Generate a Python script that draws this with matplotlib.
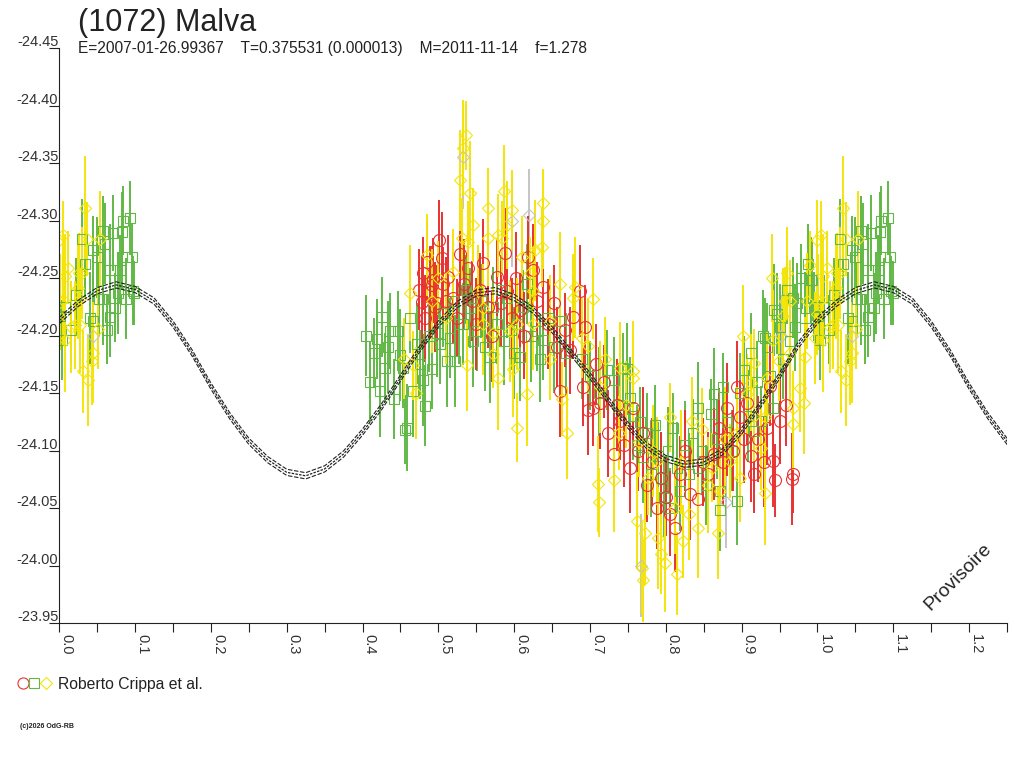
import numpy as np
import matplotlib.pyplot as plt
from matplotlib import transforms
from matplotlib.lines import Line2D
from matplotlib.legend_handler import HandlerTuple

plt.rcParams["font.family"] = ["Liberation Sans", "DejaVu Sans"]

# --- Texts ---
TITLE = "(1072) Malva"
SUBTITLE = "E=2007-01-26.99367    T=0.375531 (0.000013)    M=2011-11-14    f=1.278"
OBSERVER = "Roberto Crippa et al."
FOOTER = "(c)2026 OdG-RB"
STAMP = "Provisoire"

X_MAX = 1.25
Y_TICKS = [-24.45, -24.40, -24.35, -24.30, -24.25, -24.20,
           -24.15, -24.10, -24.05, -24.00, -23.95]

# --- Fitted light curve (one cycle, read every 0.025 in phase) ---
CURVE_PHASE = [0.000, 0.025, 0.050, 0.075, 0.100, 0.125, 0.150, 0.175, 0.200, 0.225,
               0.250, 0.275, 0.300, 0.325, 0.350, 0.375, 0.400, 0.425, 0.450, 0.475,
               0.500, 0.525, 0.550, 0.575, 0.600, 0.625, 0.650, 0.675, 0.700, 0.725,
               0.750, 0.775, 0.800, 0.825, 0.850, 0.875, 0.900, 0.925, 0.950, 0.975]
CURVE_MAG = [-24.213, -24.228, -24.239, -24.244, -24.240, -24.230, -24.210, -24.185, -24.156, -24.130,
             -24.108, -24.092, -24.081, -24.078, -24.084, -24.097, -24.116, -24.138, -24.163, -24.188,
             -24.210, -24.227, -24.237, -24.239, -24.233, -24.222, -24.205, -24.185, -24.165, -24.143,
             -24.122, -24.104, -24.093, -24.088, -24.090, -24.099, -24.117, -24.140, -24.165, -24.192]
CURVE_SPREAD = 0.0027

# --- Green squares ---
green_phase = [0.001, 0.004, 0.008, 0.015, 0.022, 0.030, 0.034, 0.040, 0.045, 0.045,
               0.050, 0.052, 0.058, 0.058, 0.060, 0.063, 0.067, 0.067, 0.071, 0.074,
               0.077, 0.080, 0.083, 0.083, 0.084, 0.088, 0.093, 0.096, 0.097, 0.099,
               0.405, 0.410, 0.415, 0.419, 0.423, 0.426, 0.430, 0.433, 0.436, 0.441,
               0.447, 0.449, 0.454, 0.456, 0.458, 0.463, 0.467, 0.472, 0.476, 0.480,
               0.483, 0.487, 0.492, 0.498, 0.502, 0.506, 0.511, 0.515, 0.519, 0.522,
               0.527, 0.533, 0.537, 0.542, 0.546, 0.551, 0.556, 0.561, 0.568, 0.572,
               0.577, 0.582, 0.586, 0.591, 0.596, 0.600, 0.604, 0.608, 0.612, 0.617,
               0.622, 0.630, 0.634, 0.638, 0.645, 0.652, 0.661, 0.668,
               0.690, 0.700, 0.712, 0.722, 0.731, 0.738, 0.744, 0.749, 0.753, 0.757,
               0.762, 0.766, 0.770, 0.775, 0.780, 0.786, 0.790, 0.793, 0.798, 0.803,
               0.806, 0.810, 0.815, 0.819, 0.825, 0.830, 0.836, 0.842, 0.842, 0.848,
               0.853, 0.859, 0.863, 0.868, 0.872, 0.872, 0.876, 0.881, 0.887, 0.894,
               0.898, 0.903, 0.908, 0.912, 0.916, 0.920, 0.925, 0.928, 0.931, 0.934,
               0.938, 0.942, 0.943, 0.947, 0.951, 0.955, 0.960, 0.964, 0.968, 0.971,
               0.973, 0.978, 0.983, 0.987, 0.991, 0.993, 0.996]
green_mag = [-24.217, -24.196, -24.225, -24.205, -24.235, -24.284, -24.262, -24.215, -24.274, -24.213,
             -24.268, -24.232, -24.291, -24.232, -24.280, -24.205, -24.257, -24.216, -24.289, -24.224,
             -24.237, -24.257, -24.290, -24.268, -24.300, -24.232, -24.302, -24.268, -24.239, -24.237,
             -24.200, -24.160, -24.185, -24.197, -24.152, -24.216, -24.172, -24.190, -24.204, -24.145,
             -24.204, -24.183, -24.172, -24.118, -24.120, -24.215, -24.152, -24.193, -24.175, -24.161,
             -24.139, -24.200, -24.171, -24.202, -24.193, -24.220, -24.178, -24.198, -24.230, -24.178,
             -24.210, -24.210, -24.240, -24.224, -24.195, -24.204, -24.230, -24.190, -24.181, -24.225,
             -24.210, -24.240, -24.195, -24.233, -24.205, -24.185, -24.210, -24.181, -24.225, -24.245,
             -24.200, -24.204, -24.180, -24.196, -24.215, -24.190, -24.213, -24.185,
             -24.180, -24.165, -24.150, -24.170, -24.161, -24.140, -24.172, -24.171, -24.146, -24.130,
             -24.105, -24.125, -24.094, -24.115, -24.080, -24.122, -24.095, -24.076, -24.060, -24.100,
             -24.050, -24.120, -24.085, -24.065, -24.105, -24.080, -24.115, -24.137, -24.085, -24.100,
             -24.070, -24.132, -24.149, -24.110, -24.065, -24.048, -24.155, -24.125, -24.100, -24.056,
             -24.150, -24.170, -24.130, -24.185, -24.117, -24.160, -24.126, -24.200, -24.198, -24.190,
             -24.165, -24.137, -24.222, -24.219, -24.207, -24.180, -24.240, -24.195, -24.233, -24.207,
             -24.228, -24.250, -24.215, -24.262, -24.248, -24.248, -24.225]
green_err = [0.030, 0.035, 0.028, 0.030, 0.032, 0.035, 0.030, 0.040, 0.030, 0.038,
             0.035, 0.032, 0.030, 0.040, 0.035, 0.030, 0.040, 0.035, 0.033, 0.030,
             0.036, 0.030, 0.035, 0.028, 0.030, 0.035, 0.032, 0.030, 0.030, 0.028,
             0.035, 0.035, 0.030, 0.035, 0.040, 0.035, 0.030, 0.040, 0.033, 0.035,
             0.035, 0.040, 0.035, 0.030, 0.038, 0.030, 0.040, 0.035, 0.030, 0.040,
             0.035, 0.032, 0.035, 0.038, 0.035, 0.030, 0.040, 0.035, 0.032, 0.040,
             0.035, 0.036, 0.030, 0.035, 0.040, 0.035, 0.032, 0.038, 0.040, 0.035,
             0.035, 0.030, 0.038, 0.035, 0.035, 0.040, 0.035, 0.038, 0.032, 0.035,
             0.040, 0.035, 0.038, 0.035, 0.030, 0.040, 0.035, 0.035,
             0.035, 0.030, 0.040, 0.035, 0.038, 0.035, 0.030, 0.040, 0.035, 0.038,
             0.035, 0.030, 0.040, 0.035, 0.038, 0.035, 0.030, 0.040, 0.035, 0.038,
             0.035, 0.030, 0.040, 0.035, 0.038, 0.035, 0.030, 0.040, 0.035, 0.038,
             0.035, 0.030, 0.040, 0.035, 0.038, 0.035, 0.030, 0.040, 0.035, 0.038,
             0.035, 0.030, 0.040, 0.035, 0.038, 0.035, 0.030, 0.040, 0.035, 0.038,
             0.035, 0.030, 0.040, 0.035, 0.038, 0.035, 0.030, 0.040, 0.035, 0.038,
             0.035, 0.030, 0.040, 0.035, 0.038, 0.035, 0.030]

# --- Red circles ---
red_phase = [0.475, 0.478, 0.480, 0.483, 0.485, 0.489, 0.492, 0.493, 0.496, 0.498,
             0.501, 0.505, 0.506, 0.510, 0.513, 0.519, 0.524, 0.529, 0.534, 0.539,
             0.545, 0.550, 0.555, 0.559, 0.565, 0.571, 0.577, 0.583, 0.588, 0.591,
             0.597, 0.603, 0.608, 0.613, 0.618, 0.625, 0.630, 0.638, 0.645, 0.652,
             0.657, 0.661, 0.667, 0.674, 0.678, 0.687, 0.691, 0.694, 0.697, 0.704,
             0.708, 0.713, 0.718, 0.724, 0.731, 0.736, 0.740, 0.745, 0.753, 0.757,
             0.763, 0.770, 0.775, 0.782, 0.789, 0.793, 0.800, 0.806, 0.812, 0.819,
             0.825, 0.832, 0.843, 0.849, 0.855, 0.863, 0.870, 0.875, 0.881, 0.881,
             0.888, 0.894, 0.898, 0.903, 0.907, 0.912, 0.916, 0.922, 0.930, 0.934,
             0.938, 0.942, 0.944, 0.951, 0.958, 0.967, 0.968]
red_mag = [-24.240, -24.229, -24.254, -24.215, -24.264, -24.238, -24.244, -24.248, -24.225, -24.228,
           -24.283, -24.267, -24.245, -24.230, -24.251, -24.233, -24.215, -24.271, -24.245, -24.259,
           -24.230, -24.210, -24.240, -24.263, -24.225, -24.200, -24.251, -24.228, -24.272, -24.239,
           -24.215, -24.250, -24.222, -24.200, -24.268, -24.257, -24.230, -24.242, -24.210, -24.228,
           -24.190, -24.152, -24.205, -24.187, -24.216, -24.239, -24.155, -24.207, -24.135, -24.137,
           -24.175, -24.141, -24.160, -24.115, -24.097, -24.140, -24.126, -24.105, -24.085, -24.137,
           -24.100, -24.115, -24.070, -24.090, -24.050, -24.076, -24.060, -24.045, -24.033, -24.080,
           -24.100, -24.062, -24.058, -24.090, -24.080, -24.097, -24.120, -24.090, -24.137, -24.111,
           -24.100, -24.155, -24.129, -24.110, -24.141, -24.095, -24.080, -24.110, -24.090, -24.120,
           -24.156, -24.091, -24.074, -24.126, -24.140, -24.075, -24.080]
red_err = [0.035, 0.040, 0.032, 0.038, 0.036, 0.040, 0.034, 0.037, 0.039, 0.033,
           0.035, 0.040, 0.032, 0.038, 0.036, 0.040, 0.034, 0.037, 0.039, 0.033,
           0.035, 0.040, 0.032, 0.038, 0.036, 0.040, 0.034, 0.037, 0.039, 0.033,
           0.035, 0.040, 0.032, 0.038, 0.036, 0.040, 0.034, 0.037, 0.039, 0.033,
           0.035, 0.040, 0.032, 0.038, 0.036, 0.040, 0.034, 0.037, 0.039, 0.033,
           0.035, 0.040, 0.032, 0.038, 0.036, 0.040, 0.034, 0.037, 0.039, 0.033,
           0.035, 0.040, 0.032, 0.038, 0.036, 0.040, 0.034, 0.037, 0.039, 0.033,
           0.035, 0.040, 0.032, 0.038, 0.036, 0.040, 0.034, 0.037, 0.039, 0.033,
           0.035, 0.040, 0.032, 0.038, 0.036, 0.040, 0.034, 0.037, 0.039, 0.033,
           0.035, 0.040, 0.032, 0.038, 0.036, 0.040, 0.034]

# --- Yellow diamonds ---
yellow_phase = [0.000, 0.001, 0.005, 0.005, 0.007, 0.007, 0.012, 0.016, 0.021, 0.025,
                0.026, 0.027, 0.027, 0.030, 0.031, 0.034, 0.037, 0.038, 0.043, 0.045,
                0.051, 0.054,
                0.455, 0.462, 0.467, 0.470, 0.485, 0.492, 0.500, 0.510, 0.519, 0.529,
                0.531, 0.533, 0.536, 0.538, 0.539, 0.542, 0.546, 0.552, 0.559, 0.559,
                0.566, 0.566, 0.572, 0.572, 0.579, 0.579, 0.584, 0.586, 0.591, 0.595,
                0.597, 0.599, 0.604, 0.604, 0.610, 0.617, 0.621, 0.625, 0.625, 0.628,
                0.637, 0.638, 0.638, 0.647, 0.647, 0.661, 0.663, 0.670, 0.678, 0.680,
                0.690, 0.698,
                0.704, 0.711, 0.712, 0.713, 0.720, 0.731, 0.738, 0.740, 0.748, 0.757,
                0.757, 0.762, 0.764, 0.769, 0.770, 0.773, 0.777, 0.783, 0.789, 0.790,
                0.793, 0.799, 0.806, 0.812, 0.815, 0.820, 0.823, 0.830, 0.835, 0.843,
                0.848, 0.855, 0.861, 0.869, 0.872, 0.878, 0.885, 0.894, 0.898, 0.902,
                0.907, 0.912, 0.916, 0.916, 0.925, 0.931, 0.931, 0.934, 0.940, 0.942,
                0.949, 0.955, 0.957, 0.960, 0.964, 0.964, 0.968, 0.968, 0.977, 0.982,
                0.984, 0.986, 0.990, 0.997, 0.999]
yellow_mag = [-24.283, -24.229, -24.287, -24.231, -24.252, -24.196, -24.259, -24.207, -24.209, -24.241,
              -24.254, -24.209, -24.232, -24.254, -24.169, -24.311, -24.284, -24.161, -24.178, -24.185,
              -24.206, -24.284,
              -24.180, -24.237, -24.174, -24.150, -24.270, -24.230, -24.250, -24.215, -24.255, -24.335,
              -24.285, -24.363, -24.374, -24.174, -24.281, -24.324, -24.296, -24.239, -24.224, -24.210,
              -24.311, -24.285, -24.184, -24.202, -24.287, -24.163, -24.285, -24.326, -24.296, -24.204,
              -24.309, -24.171, -24.120, -24.210, -24.268, -24.149, -24.254, -24.210, -24.239, -24.274,
              -24.277, -24.300, -24.315, -24.213, -24.180, -24.245, -24.145, -24.115, -24.233, -24.242,
              -24.198, -24.191,
              -24.232, -24.071, -24.055, -24.155, -24.180, -24.074, -24.115, -24.172, -24.140, -24.169,
              -24.163, -24.039, -24.107, -23.998, -23.987, -24.028, -24.076, -24.100, -24.091, -24.024,
              -24.010, -24.002, -24.129, -24.050, -23.993, -24.090, -24.021, -24.045, -24.126, -24.033,
              -24.119, -24.070, -24.085, -24.028, -24.065, -24.110, -24.091, -24.115, -24.076, -24.200,
              -24.149, -24.159, -24.176, -24.130, -24.102, -24.063, -24.129, -24.163, -24.250, -24.196,
              -24.178, -24.217, -24.230, -24.254, -24.230, -24.185, -24.137, -24.123, -24.154, -24.141,
              -24.181, -24.230, -24.261, -24.198, -24.219]
yellow_err = [0.035, 0.042, 0.030, 0.040, 0.036, 0.045, 0.032, 0.040, 0.038, 0.044,
              0.035, 0.042, 0.030, 0.040, 0.036, 0.045, 0.032, 0.040, 0.038, 0.044,
              0.035, 0.042,
              0.035, 0.042, 0.030, 0.040, 0.036, 0.045, 0.032, 0.040, 0.038, 0.044,
              0.035, 0.042, 0.030, 0.040, 0.036, 0.045, 0.032, 0.040, 0.038, 0.044,
              0.035, 0.042, 0.030, 0.040, 0.036, 0.045, 0.032, 0.040, 0.038, 0.044,
              0.035, 0.042, 0.030, 0.040, 0.036, 0.045, 0.032, 0.040, 0.038, 0.044,
              0.035, 0.042, 0.030, 0.040, 0.036, 0.045, 0.032, 0.040, 0.038, 0.044,
              0.035, 0.042,
              0.035, 0.042, 0.030, 0.040, 0.036, 0.045, 0.032, 0.040, 0.038, 0.044,
              0.035, 0.042, 0.030, 0.040, 0.036, 0.045, 0.032, 0.040, 0.038, 0.044,
              0.035, 0.042, 0.030, 0.040, 0.036, 0.045, 0.032, 0.040, 0.038, 0.044,
              0.035, 0.042, 0.030, 0.040, 0.036, 0.045, 0.032, 0.040, 0.038, 0.044,
              0.035, 0.042, 0.030, 0.040, 0.036, 0.045, 0.032, 0.040, 0.038, 0.044,
              0.035, 0.042, 0.030, 0.040, 0.036, 0.045, 0.032, 0.040, 0.038, 0.044,
              0.035, 0.042, 0.030, 0.040, 0.036]

# --- Grey (other) points ---
grey_phase = [0.045, 0.533, 0.597, 0.620, 0.767, 0.880, 0.952]
grey_mag = [-24.200, -24.355, -24.300, -24.305, -24.000, -24.055, -24.200]
grey_err = [0.030, 0.045, 0.040, 0.040, 0.045, 0.040, 0.035]

RED = "#e83232"
GREEN = "#62b846"
YELLOW = "#f4e40a"
GREY = "#c4c4c4"
INK = "#222222"


def wrap(phase, mag, err):
    """Repeat points of the first cycle after phase 1 up to X_MAX."""
    phase = np.asarray(phase, dtype=float)
    mag = np.asarray(mag, dtype=float)
    err = np.asarray(err, dtype=float)
    keep = phase + 1.0 <= X_MAX
    return (np.concatenate([phase, phase[keep] + 1.0]),
            np.concatenate([mag, mag[keep]]),
            np.concatenate([err, err[keep]]))


fig = plt.figure(figsize=(10.24, 7.68), dpi=100)
ax = fig.add_axes([0.0579, 0.1888, 0.9255, 0.7487])

series = [
    (grey_phase, grey_mag, grey_err, GREY, "D", 6.0),
    (green_phase, green_mag, green_err, GREEN, "s", 7.0),
    (red_phase, red_mag, red_err, RED, "o", 8.6),
    (yellow_phase, yellow_mag, yellow_err, YELLOW, "D", 6.4),
]
for ph, mg, er, col, mk, ms in series:
    x, y, e = wrap(ph, mg, er)
    ax.errorbar(x, y, yerr=e, fmt=mk, ms=ms, mfc="none", mec=col, mew=0.8,
                ecolor=col, elinewidth=1.4, capsize=0, ls="none", zorder=2)

# fitted curve, repeated over the plotted phase range
cph = np.asarray(CURVE_PHASE)
cmag = np.asarray(CURVE_MAG)
ph_all = np.concatenate([cph, cph + 1.0, [2.0]])
mag_all = np.concatenate([cmag, cmag, [cmag[0]]])
ax.plot(ph_all, mag_all, color=INK, lw=0.9, ls=(0, (2, 1)), zorder=3)
ax.plot(ph_all, mag_all - CURVE_SPREAD, color=INK, lw=0.8, ls=(0, (4, 1.5)), zorder=3)
ax.plot(ph_all, mag_all + CURVE_SPREAD, color=INK, lw=0.8, ls=(0, (4, 1.5)), zorder=3)

ax.set_xlim(0, X_MAX)
ax.set_ylim(Y_TICKS[-1], Y_TICKS[0])

for side in ("top", "right"):
    ax.spines[side].set_visible(False)
for side in ("left", "bottom"):
    ax.spines[side].set_color(INK)
    ax.spines[side].set_linewidth(0.8)

major = np.round(np.arange(0.0, 1.21, 0.1), 2)
ax.set_xticks(major)
ax.set_xticklabels([f"{t:.1f}" for t in major], rotation=270, ha="left")
ax.set_xticks(np.round(np.arange(0.05, 1.26, 0.1), 2), minor=True)
ax.tick_params(axis="x", which="both", direction="out", length=6.5, width=0.8,
               color=INK, labelsize=10.5, labelcolor="#333333", pad=1.5)

ax.set_yticks(Y_TICKS)
ax.tick_params(axis="y", direction="out", length=7.2, width=0.8, color=INK,
               labelleft=False)
ylab_tr = transforms.offset_copy(ax.get_yaxis_transform(), fig=fig, x=-1, y=2, units="dots")
for v in Y_TICKS:
    ax.text(0, v, f"{v:.2f}", transform=ylab_tr, ha="right", va="baseline",
            fontsize=10.5, color="#333333", clip_on=False)

fig.text(78 / 1024, 1 - 31 / 768, TITLE, fontsize=22, color=INK, va="baseline")
fig.text(78 / 1024, 1 - 53 / 768, SUBTITLE, fontsize=11.2, color=INK, va="baseline")
fig.text(958 / 1024, 1 - 577 / 768, STAMP, fontsize=14, color=INK, rotation=45,
         ha="center", va="center")
fig.text(20 / 1024, 1 - 728 / 768, FOOTER, fontsize=5, fontweight="bold", color=INK)

handle = (
    Line2D([], [], marker="o", ls="none", mfc="none", mec=RED, ms=8.0, mew=0.8),
    Line2D([], [], marker="s", ls="none", mfc="none", mec=GREEN, ms=6.5, mew=0.8),
    Line2D([], [], marker="D", ls="none", mfc="none", mec=YELLOW, ms=6.0, mew=0.8),
)
fig.legend([handle], [OBSERVER], handler_map={tuple: HandlerTuple(ndivide=None, pad=0.0)},
           loc="center left", bbox_to_anchor=(17 / 1024, 1 - 684 / 768), frameon=False,
           handlelength=2.2, handletextpad=0.4, borderpad=0, borderaxespad=0,
           fontsize=11.3, labelcolor=INK)

fig.savefig("out.png", dpi=100)
plt.close(fig)
